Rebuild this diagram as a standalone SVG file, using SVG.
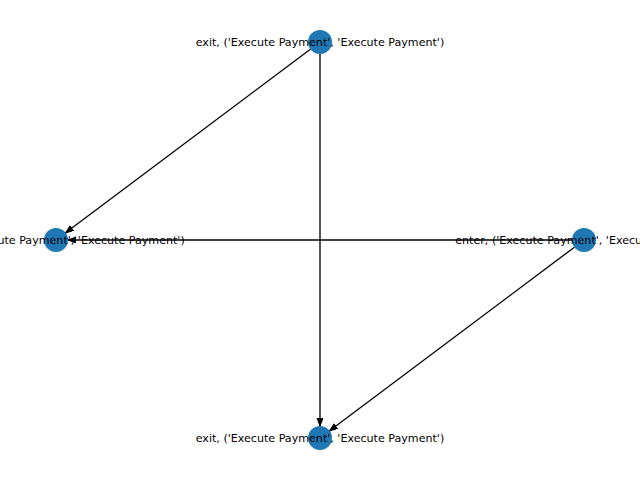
<svg xmlns="http://www.w3.org/2000/svg" width="640" height="480" viewBox="0 0 640 480">
<style>
.edge{stroke:#000;stroke-width:1.33;fill:none;marker-end:url(#arr)}
.node{fill:#1f77b4}
.lbl{font-family:"DejaVu Sans",sans-serif;font-size:11.1px;fill:#000;text-anchor:middle;dominant-baseline:central}
</style>
<defs>
<marker id="arr" markerUnits="userSpaceOnUse" markerWidth="10" markerHeight="8" refX="8" refY="3" orient="auto">
<path d="M0,0 L8,3 L0,6 Z" fill="#000" stroke="#000" stroke-width="1"/>
</marker>
</defs>
<rect width="640" height="480" fill="#fff"/>
<g id="edges">
<line class="edge" x1="310.4" y1="49.2" x2="65.6" y2="232.8"/>
<line class="edge" x1="320" y1="54" x2="320" y2="426"/>
<line class="edge" x1="572" y1="240" x2="68" y2="240"/>
<line class="edge" x1="574.4" y1="247.2" x2="329.6" y2="430.8"/>
</g>
<g id="node-top"><circle class="node" cx="320" cy="42" r="12"/></g>
<g id="node-left"><circle class="node" cx="56" cy="240" r="12"/></g>
<g id="node-right"><circle class="node" cx="584" cy="240" r="12"/></g>
<g id="node-bottom"><circle class="node" cx="320" cy="438" r="12"/></g>
<g id="labels">
<text class="lbl" x="320" y="42">exit, ('Execute Payment', 'Execute Payment')</text>
<text class="lbl" x="56" y="240">enter, ('Execute Payment', 'Execute Payment')</text>
<text class="lbl" x="584" y="240">enter, ('Execute Payment', 'Execute Payment')</text>
<text class="lbl" x="320" y="438">exit, ('Execute Payment', 'Execute Payment')</text>
</g>
</svg>
